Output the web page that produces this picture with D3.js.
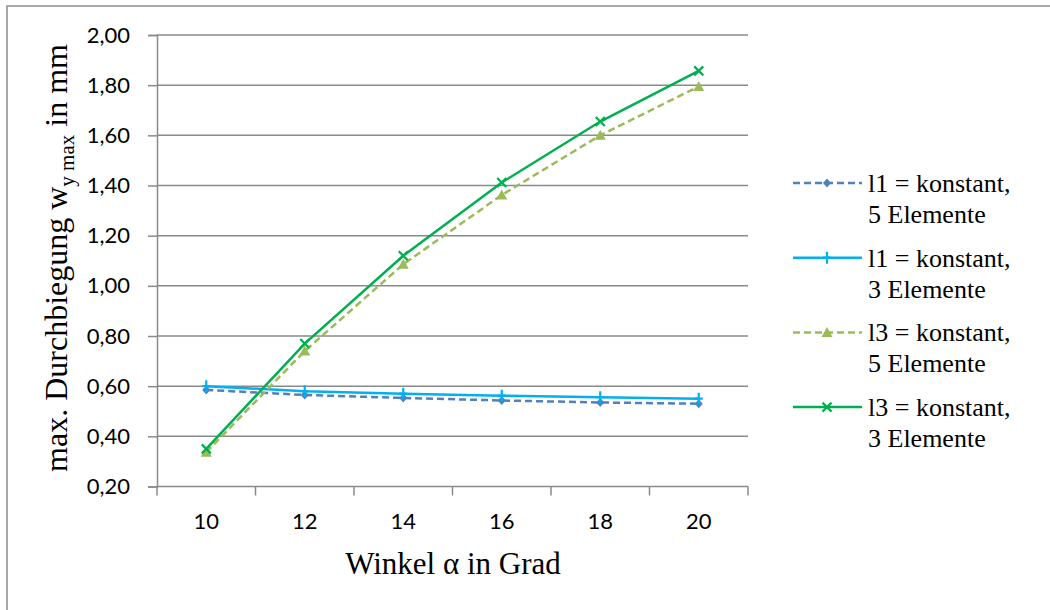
<!DOCTYPE html>
<html>
<head>
<meta charset="utf-8">
<script src="https://cdn.jsdelivr.net/npm/d3@7/dist/d3.min.js"></script>
<style>
  html, body { margin: 0; padding: 0; background: #fff; }
  svg { display: block; }
  .serif { font-family: "Liberation Serif", "Times New Roman", serif; }
  .tick-font { font-family: Lato, "Open Sans", sans-serif; }
</style>
</head>
<body>
<svg id="chart" width="1050" height="610"></svg>
<script>
// Winkel (Grad)
const categories = [10, 12, 14, 16, 18, 20];

// max. Durchbiegung in mm
const l1Const5 = [0.585, 0.565, 0.553, 0.543, 0.535, 0.530];
const l1Const3 = [0.600, 0.580, 0.570, 0.562, 0.556, 0.550];
const l3Const5 = [0.337, 0.740, 1.086, 1.362, 1.600, 1.795];
const l3Const3 = [0.350, 0.770, 1.120, 1.412, 1.655, 1.857];

const yTicks = [0.2, 0.4, 0.6, 0.8, 1.0, 1.2, 1.4, 1.6, 1.8, 2.0];

const series = [
  { name: ["l1 = konstant,", "5 Elemente"], values: l1Const5, color: "#4F81BD", dash: "7,4", marker: "diamond" },
  { name: ["l1 = konstant,", "3 Elemente"], values: l1Const3, color: "#00B0F0", dash: null, marker: "plus" },
  { name: ["l3 = konstant,", "5 Elemente"], values: l3Const5, color: "#9BBB59", dash: "7,4", marker: "triangle" },
  { name: ["l3 = konstant,", "3 Elemente"], values: l3Const3, color: "#00B050", dash: null, marker: "cross" }
];

const svg = d3.select("#chart");
const plot = { left: 157, right: 748, top: 35, bottom: 486.5 };
const gridColor = "#8A8A8A";

// outer chart frame
svg.append("rect")
  .attr("x", 7).attr("y", 6)
  .attr("width", 1200).attr("height", 800)
  .attr("fill", "#fff")
  .attr("stroke", "#8C8C8C").attr("stroke-width", 1.5);

const x = d3.scaleBand().domain(categories).range([plot.left, plot.right]).padding(0);
const y = d3.scaleLinear().domain([0.2, 2.0]).range([plot.bottom, plot.top]);

// horizontal gridlines
svg.append("g")
  .selectAll("line")
  .data(yTicks.slice(1))
  .join("line")
  .attr("x1", plot.left).attr("x2", plot.right)
  .attr("y1", d => y(d)).attr("y2", d => y(d))
  .attr("stroke", gridColor).attr("stroke-width", 1.5);

// y axis
const yAxis = svg.append("g")
  .attr("transform", `translate(${plot.left},0)`)
  .call(d3.axisLeft(y).tickValues(yTicks).tickSize(9).tickPadding(18)
    .tickFormat(d => d3.format(".2f")(d).replace(".", ",")));
yAxis.attr("font-family", null).attr("font-size", null);
yAxis.select(".domain").attr("stroke", gridColor).attr("stroke-width", 1.5);
yAxis.selectAll(".tick line").attr("stroke", gridColor).attr("stroke-width", 1.5);
yAxis.selectAll(".tick text")
  .attr("class", "tick-font")
  .style("font-size", "22px").attr("fill", "#000");

// x axis (category axis, ticks between categories)
const xAxisG = svg.append("g").attr("transform", `translate(0,${plot.bottom})`);
xAxisG.append("line")
  .attr("x1", plot.left).attr("x2", plot.right)
  .attr("stroke", gridColor).attr("stroke-width", 1.5);
const edges = categories.map(c => x(c)).concat([plot.right]);
xAxisG.selectAll("line.tk")
  .data(edges)
  .join("line").attr("class", "tk")
  .attr("x1", d => d).attr("x2", d => d)
  .attr("y1", 0).attr("y2", 9)
  .attr("stroke", gridColor).attr("stroke-width", 1.5);
xAxisG.selectAll("text.lbl")
  .data(categories)
  .join("text")
  .attr("class", "lbl tick-font")
  .attr("x", d => x(d) + x.bandwidth() / 2)
  .attr("y", 42)
  .attr("text-anchor", "middle")
  .style("font-size", "22px").attr("fill", "#000")
  .text(d => d);

// axis titles
svg.append("text")
  .attr("class", "serif")
  .attr("x", 453).attr("y", 574)
  .attr("text-anchor", "middle")
  .style("font-size", "31px").attr("fill", "#000")
  .text("Winkel α in Grad");

const yTitle = svg.append("text")
  .attr("class", "serif")
  .attr("transform", "translate(67,258) rotate(-90)")
  .attr("text-anchor", "middle")
  .style("font-size", "32px").attr("fill", "#000");
yTitle.append("tspan").text("max. Durchbiegung w");
yTitle.append("tspan").style("font-size", "21px").attr("dy", 7).text("y max");
yTitle.append("tspan").attr("dy", -7).text(" in mm");

// marker shapes
function drawMarker(g, type, color) {
  if (type === "diamond") {
    g.append("path").attr("d", "M0,-4.5L4,0L0,4.5L-4,0Z").attr("fill", color);
  } else if (type === "triangle") {
    g.append("path").attr("d", "M0,-5.5L5.5,4.5L-5.5,4.5Z").attr("fill", color);
  } else if (type === "plus") {
    g.append("path").attr("d", "M0,-6V6M-4,0H4")
      .attr("stroke", color).attr("stroke-width", 2.2).attr("fill", "none");
  } else if (type === "cross") {
    g.append("path").attr("d", "M-4.5,-4.5L4.5,4.5M-4.5,4.5L4.5,-4.5")
      .attr("stroke", color).attr("stroke-width", 2.2).attr("fill", "none");
  }
}

const line = d3.line()
  .x((d, i) => x(categories[i]) + x.bandwidth() / 2)
  .y(d => y(d));

series.forEach(s => {
  const g = svg.append("g");
  g.append("path")
    .attr("d", line(s.values))
    .attr("fill", "none")
    .attr("stroke", s.color).attr("stroke-width", 2.5)
    .attr("stroke-dasharray", s.dash);
  s.values.forEach((v, i) => {
    const m = g.append("g")
      .attr("transform", `translate(${x(categories[i]) + x.bandwidth() / 2},${y(v)})`);
    drawMarker(m, s.marker, s.color);
  });
});

// legend
const legend = svg.append("g");
series.forEach((s, i) => {
  const cy = 183 + i * 74.7;
  const g = legend.append("g").attr("transform", `translate(0,${cy})`);
  g.append("line")
    .attr("x1", 793).attr("x2", 862)
    .attr("stroke", s.color).attr("stroke-width", 2.5)
    .attr("stroke-dasharray", s.dash);
  const m = g.append("g").attr("transform", "translate(827,0)");
  drawMarker(m, s.marker, s.color);
  s.name.forEach((t, j) => {
    g.append("text")
      .attr("class", "serif")
      .attr("x", 868)
      .attr("y", 9 + j * 31)
      .style("font-size", "26px").attr("fill", "#000")
      .text(t);
  });
});
</script>
</body>
</html>
